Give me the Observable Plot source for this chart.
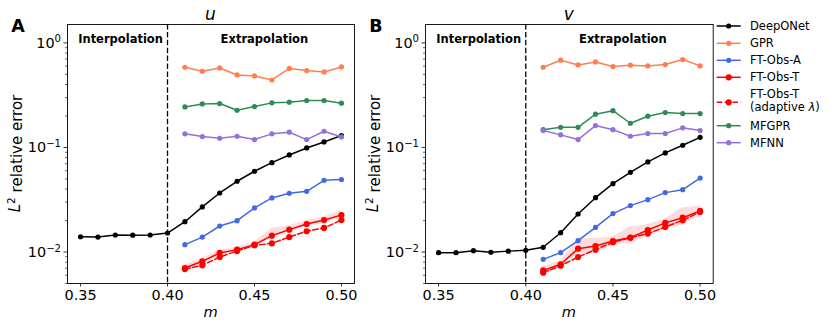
<!DOCTYPE html>
<html><head><meta charset="utf-8">
<script src="https://cdn.jsdelivr.net/npm/d3@7"></script>
<script src="https://cdn.jsdelivr.net/npm/@observablehq/plot@0.6"></script>
<style>
body{margin:0;background:#fff;}
#wrap{position:relative;width:830px;height:328px;background:#fff;font-family:"DejaVu Sans",sans-serif;}
#wrap svg{position:absolute;top:0;overflow:visible;}
</style></head><body><div id="wrap"></div>
<script>
// ---- data ----
const mInterp = [0.35, 0.36, 0.37, 0.38, 0.39, 0.40];
const mExtrap = [0.41, 0.42, 0.43, 0.44, 0.45, 0.46, 0.47, 0.48, 0.49, 0.50];
const mAll = mInterp.concat(mExtrap);
const xTickValues = [0.35, 0.40, 0.45, 0.50];
const yMajorTicks = [0.01, 0.1, 1];
const yMinorTicks = [0.005,0.006,0.007,0.008,0.009,0.02,0.03,0.04,0.05,0.06,0.07,0.08,0.09,0.2,0.3,0.4,0.5,0.6,0.7,0.8,0.9];
const seriesNames = ["DeepONet", "GPR", "FT-Obs-A", "FT-Obs-T", "FT-Obs-T (adaptive λ)", "MFGPR", "MFNN"];
const regionLabels = ["Interpolation", "Extrapolation"];
const panelTitles = ["u", "v"];
const panelLetters = ["A", "B"];

// Panel A (u)
const deepA  = [0.0140,0.0139,0.01455,0.0145,0.01455,0.0152,0.0195,0.027,0.0367,0.0475,0.0592,0.0716,0.0848,0.0989,0.1129,0.130];
const gprA   = [0.585,0.536,0.576,0.494,0.483,0.442,0.57,0.544,0.528,0.589];
const ftaA   = [0.01177,0.0139,0.01774,0.01995,0.0264,0.0329,0.0365,0.0381,0.0485,0.0493];
const fttA   = [0.00703,0.00815,0.0098,0.01054,0.01177,0.01435,0.01637,0.01854,0.0202,0.0226];
const fttAdA = [0.00687,0.00746,0.00896,0.01022,0.01159,0.0121,0.0139,0.0158,0.0170,0.0202];
const mfgprA = [0.244,0.261,0.263,0.227,0.246,0.267,0.271,0.281,0.281,0.265];
const mfnnA  = [0.135,0.127,0.1225,0.128,0.119,0.135,0.14,0.119,0.143,0.126];
const bandLoA = [0.0066,0.0077,0.0093,0.0100,0.0111,0.0136,0.0154,0.0175,0.0191,0.0212];
const bandHiA = [0.0075,0.0087,0.0104,0.0112,0.0125,0.0168,0.0178,0.0200,0.0216,0.0250];

// Panel B (v)
const deepB  = [0.00986,0.00986,0.0103,0.00995,0.0102,0.01038,0.0111,0.0153,0.0231,0.0331,0.0451,0.0579,0.0727,0.0887,0.105,0.125];
const gprB   = [0.585,0.683,0.616,0.658,0.594,0.612,0.603,0.621,0.693,0.603];
const ftaB   = [0.00851,0.00986,0.01285,0.0172,0.0233,0.0278,0.0317,0.037,0.0395,0.051];
const fttB   = [0.00668,0.00763,0.01077,0.0114,0.01274,0.01374,0.01625,0.019,0.0213,0.0247];
const fttAdB = [0.00635,0.0074,0.00896,0.01054,0.0124,0.0137,0.015,0.01735,0.0201,0.0242];
const mfgprB = [0.148,0.156,0.156,0.208,0.225,0.1705,0.199,0.216,0.211,0.211];
const mfnnB  = [0.145,0.132,0.119,0.162,0.148,0.128,0.136,0.136,0.154,0.145];
const bandLoB = [0.0062,0.0071,0.0098,0.0097,0.0116,0.0121,0.0139,0.0167,0.0181,0.0221];
const bandHiB = [0.0072,0.0082,0.0135,0.0135,0.0140,0.0173,0.0183,0.0207,0.0263,0.0277];

// ---- styles ----
const colors = ["#000000", "#FF7F50", "#4169E1", "#FF0000", "#FF0000", "#2E8B57", "#9370DB"];
const FONT = "DejaVu Sans";
const wrap = d3.select("#wrap");

function supLabel(sel) {
  sel.each(function() {
    const t = this.textContent;
    if (!t || t.indexOf("^") < 0) return;
    const [base, exp] = t.split("^");
    const el = d3.select(this);
    el.text(null);
    el.append("tspan").text(base);
    el.append("tspan").attr("dy", "-0.5em").attr("font-size", "0.7em").text(exp);
  });
}

function makePanel(p) {
  const series = p.series;
  const band = mExtrap.map((m, i) => ({m, lo: p.lo[i], hi: p.hi[i]}));
  const marks = [
    Plot.areaY(band, {x: "m", y1: "lo", y2: "hi", fill: "#FF0000", fillOpacity: 0.14}),
    Plot.ruleX([0.40], {stroke: "black", strokeWidth: 1.3, strokeDasharray: "5.5,2.4"})
  ];
  series.forEach((vals, k) => {
    const ms = vals.length === mAll.length ? mAll : mExtrap;
    const d = ms.map((m, i) => ({m, v: vals[i]}));
    marks.push(Plot.line(d, {x: "m", y: "v", stroke: colors[k], strokeWidth: 1.5,
      strokeDasharray: k === 4 ? "5.5,2.4" : undefined}));
    marks.push(Plot.dot(d, {x: "m", y: "v", fill: colors[k], stroke: "none", r: (k === 3 || k === 4) ? 3.1 : 2.6}));
  });
  marks.push(Plot.text([{m: 0.373, t: regionLabels[0]}, {m: 0.4557, t: regionLabels[1]}],
    {x: "m", y: 1, text: "t", fontWeight: "bold", fontSize: 11.5, lineAnchor: "bottom", fill: "black"}));
  marks.push(Plot.axisX(xTickValues, {tickSize: 3.5, tickPadding: 3, tickFormat: d3.format(".2f"), fontSize: 14.4, strokeWidth: 0.8, label: null}));
  marks.push(Plot.axisY(yMajorTicks, {tickSize: 3.5, tickPadding: 3, fontSize: 14.4, strokeWidth: 0.8, label: null,
    tickFormat: d => "10^" + String(Math.round(Math.log10(d))).replace("-", "\u2212")}));
  marks.push(Plot.axisY(yMinorTicks, {tickSize: 2, strokeWidth: 0.6, tickFormat: () => "", label: null}));
  marks.push(Plot.frame({stroke: "black", strokeWidth: 0.9}));

  const svg = Plot.plot({
    width: p.width, height: 328,
    marginLeft: p.ml, marginRight: p.mr, marginTop: 24, marginBottom: 45,
    x: {type: "linear", domain: [0.3425, 0.5075], label: null},
    y: {type: "log", domain: [0.005, 1.5], label: null},
    style: {fontFamily: FONT, fontSize: "14.4px", color: "black", background: "transparent", overflow: "visible"},
    marks
  });
  const s = d3.select(svg);
  s.style("left", p.left + "px");
  supLabel(s.selectAll('g[aria-label="y-axis tick label"] text'));
  const fl = p.ml, fr = p.width - p.mr, cx = (fl + fr) / 2;
  // title
  s.append("text").attr("x", cx).attr("y", 19.5).attr("text-anchor", "middle")
    .attr("font-family", FONT).attr("font-size", 17).attr("font-style", "italic").text(p.title);
  // panel letter
  s.append("text").attr("x", fl - 49).attr("y", 32).attr("font-family", FONT)
    .attr("font-size", 17.5).attr("font-weight", "bold").text(p.letter);
  // x label
  s.append("text").attr("x", cx).attr("y", 317).attr("text-anchor", "middle")
    .attr("font-family", FONT).attr("font-size", 14.6).attr("font-style", "italic").text("m");
  // y label
  const yl = s.append("text").attr("transform", `translate(${fl - 47},153.5) rotate(-90)`)
    .attr("text-anchor", "middle").attr("font-family", FONT).attr("font-size", 15);
  yl.append("tspan").attr("font-style", "italic").text("L");
  yl.append("tspan").attr("dy", "-0.45em").attr("font-size", "0.7em").text("2");
  yl.append("tspan").attr("dy", "0.45em").text(" relative error");
  wrap.node().appendChild(svg);
}

makePanel({series: [deepA, gprA, ftaA, fttA, fttAdA, mfgprA, mfnnA], lo: bandLoA, hi: bandHiA,
  title: panelTitles[0], letter: panelLetters[0], left: 0, width: 360, ml: 67, mr: 6});
makePanel({series: [deepB, gprB, ftaB, fttB, fttAdB, mfgprB, mfnnB], lo: bandLoB, hi: bandHiB,
  title: panelTitles[1], letter: panelLetters[1], left: 360, width: 360, ml: 65, mr: 7.3});

// ---- legend ----
const leg = wrap.append("svg").attr("width", 118).attr("height", 180).style("left", "712px");
const rowY = [26, 43.3, 60.3, 77.3, 102.3, 125.7, 142.7];
seriesNames.forEach((name, k) => {
  const y = rowY[k];
  leg.append("line").attr("x1", 4.7).attr("x2", 28.7).attr("y1", y).attr("y2", y)
    .attr("stroke", colors[k]).attr("stroke-width", 1.5)
    .attr("stroke-dasharray", k === 4 ? "5.5,2.4" : null);
  leg.append("circle").attr("cx", 16.7).attr("cy", y).attr("r", (k === 3 || k === 4) ? 3.1 : 2.6).attr("fill", colors[k]);
  const t = leg.append("text").attr("x", 38).attr("font-family", FONT).attr("font-size", 11.5);
  if (k === 4) {
    t.attr("y", y - 8).attr("dy", "0.35em");
    t.append("tspan").attr("x", 38).text("FT-Obs-T");
    const t2 = t.append("tspan").attr("x", 38).attr("dy", "1.13em");
    t2.append("tspan").text("(adaptive ");
    t2.append("tspan").attr("font-style", "italic").text("λ");
    t2.append("tspan").text(")");
  } else {
    t.attr("y", y).attr("dy", "0.35em").text(name);
  }
});
</script></body></html>
